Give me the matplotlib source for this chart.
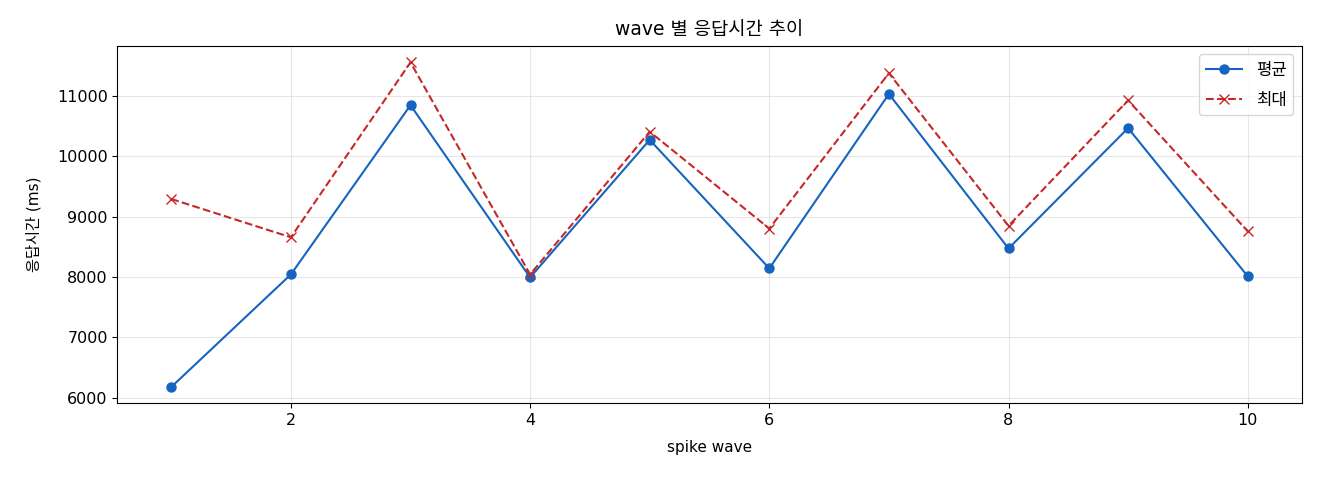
import matplotlib
matplotlib.use("Agg")
import matplotlib.pyplot as plt

plt.rcParams['font.family'] = ['DejaVu Sans', 'Noto Sans CJK KR']
plt.rcParams['axes.unicode_minus'] = False

# data
waves = [1, 2, 3, 4, 5, 6, 7, 8, 9, 10]
avg_ms = [6180, 8045, 10850, 7995, 10275, 8145, 11035, 8475, 10470, 8015]
max_ms = [9295, 8660, 11560, 8045, 10410, 8805, 11380, 8850, 10930, 8760]

fig, ax = plt.subplots(figsize=(13.2, 4.8), dpi=100)
ax.plot(waves, avg_ms, marker='o', color='#1565C0', linewidth=1.5, markersize=6.5, label='평균')
ax.plot(waves, max_ms, marker='x', linestyle='--', color='#C62828', linewidth=1.5, markersize=7, label='최대')

ax.set_title('wave 별 응답시간 추이', fontsize=13.5, pad=8)
ax.set_xlabel('spike wave', fontsize=11, labelpad=9)
ax.set_ylabel('응답시간 (ms)', fontsize=11, labelpad=11)
ax.grid(True, alpha=0.3)
ax.legend(loc='upper right', fontsize=12, handlelength=2.2, labelspacing=0.7)
ax.tick_params(labelsize=11.5)

fig.subplots_adjust(left=0.089, right=0.986, top=0.904, bottom=0.16)
fig.savefig('out.png', dpi=100)
